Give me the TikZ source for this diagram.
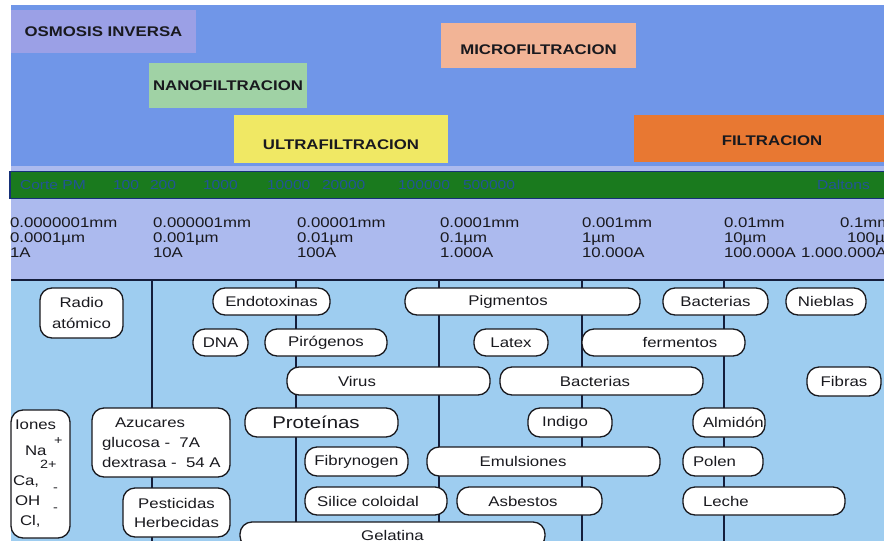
\documentclass[tikz,border=0pt]{standalone}
\usepackage{fontspec}
\setmainfont{Liberation Sans}[FakeStretch=1.2]
\definecolor{skyband}{RGB}{112,150,232}
\definecolor{scaleband}{RGB}{172,186,238}
\definecolor{lowband}{RGB}{158,205,240}
\definecolor{cutgreen}{RGB}{26,122,30}
\definecolor{cutink}{RGB}{34,84,150}
\definecolor{cutedge}{RGB}{22,48,120}
\definecolor{osmo}{RGB}{155,160,230}
\definecolor{nano}{RGB}{160,210,165}
\definecolor{ultra}{RGB}{240,232,100}
\definecolor{micro}{RGB}{242,180,150}
\definecolor{filt}{RGB}{232,120,50}
\definecolor{ink}{RGB}{25,25,30}
\definecolor{gridline}{RGB}{20,30,60}
\newcommand\supfont{\fontsize{12}{12}\selectfont}
\tikzset{
  dims/.style 2 args={minimum width=#1, minimum height=#2},
  proc/.style={anchor=north west, inner sep=0pt, outer sep=0pt,
    font=\bfseries\fontsize{14}{16}\selectfont, text=ink},
  pill/.style={anchor=north west, draw=ink, fill=white, line width=1.3pt,
    rounded corners=12pt, inner sep=0pt, outer sep=0pt,
    font=\fontsize{14}{16}\selectfont, text=ink, align=center},
  scalecol/.style={anchor=north west, inner sep=0pt, outer sep=0pt,
    font=\fontsize{14}{15}\selectfont, text=ink, align=left},
  cutlbl/.style={anchor=west, inner sep=0pt, outer sep=0pt,
    font=\fontsize{13}{13}\selectfont, text=cutink},
  grid/.style={draw=gridline, line width=1.6pt},
}
\begin{document}
\begin{tikzpicture}[x=1pt,y=-1pt]
\useasboundingbox (0,0) rectangle (884,541);
\begin{scope}
\clip (0,0) rectangle (884,541);
% backgrounds
\fill[white] (0,0) rectangle (884,541);
\fill[skyband] (11,5) rectangle (884,166);
\fill[scaleband] (11,166) rectangle (884,280);
\fill[lowband] (11,280) rectangle (884,541);
\draw[cutedge, fill=cutgreen, line width=1.5pt] (10,171.5) rectangle (886,198.5);

% separation processes
\node[proc, fill=osmo, dims={185pt}{43pt}] (osmosis) at (11,10) {OSMOSIS INVERSA};
\node[proc, fill=nano, dims={158pt}{45pt}] (nano) at (149,63) {NANOFILTRACION};
\node[proc, fill=ultra, dims={214pt}{48pt}, text height=20pt, text depth=0pt] (ultra) at (234,115) {ULTRAFILTRACION};
\node[proc, fill=micro, dims={195pt}{45pt}, text height=18pt, text depth=0pt] (micro) at (441,23) {MICROFILTRACION};
\node[proc, fill=filt, dims={250pt}{47pt}, text height=13pt, text depth=0pt] (filt) at (634,115) {\hspace*{26pt}FILTRACION};

% molecular weight cut-off
\node[cutlbl] (g1) at (20,185) {Corte PM};
\node[cutlbl] (g2) at (113,185) {100};
\node[cutlbl] (g3) at (150,185) {200};
\node[cutlbl] (g4) at (203,185) {1000};
\node[cutlbl] (g5) at (267,185) {10000};
\node[cutlbl] (g6) at (322,185) {20000};
\node[cutlbl] (g7) at (398,185) {100000};
\node[cutlbl] (g8) at (463,185) {500000};
\node[cutlbl] (g9) at (817,185) {Daltons};

% size scale
\node[scalecol] (c1) at (10,218) {0.0000001mm\\0.0001µm\\1A};
\node[scalecol] (c2) at (153,218) {0.000001mm\\0.001µm\\10A};
\node[scalecol] (c3) at (297,218) {0.00001mm\\0.01µm\\100A};
\node[scalecol] (c4) at (440,218) {0.0001mm\\0.1µm\\1.000A};
\node[scalecol] (c5) at (582,218) {0.001mm\\1µm\\10.000A};
\node[scalecol] (c6) at (724,218) {0.01mm\\10µm\\100.000A};
\node[scalecol] (c7a) at (840,218) {0.1mm};
\node[scalecol] (c7b) at (847,233) {100µm};
\node[scalecol] (c7c) at (801,248) {1.000.000A};

% decade grid
\draw[grid] (11,280) -- (884,280);
\foreach \gx in {152,296,439,582,724}
  \draw[grid] (\gx,280) -- (\gx,541);

% particles and solutes
\node[pill, dims={83pt}{50pt}, font=\fontsize{14}{21}\selectfont] (radio) at (40,288) {Radio\\atómico};
\node[pill, dims={117pt}{27pt}] (endo) at (213,288) {Endotoxinas};
\node[pill, dims={235pt}{27pt}] (pigm) at (405,288) {\hspace*{-29pt}Pigmentos};
\node[pill, dims={105pt}{27pt}] (bact1) at (663,288) {Bacterias};
\node[pill, dims={80pt}{27pt}] (nieblas) at (786,288) {Nieblas};

\node[pill, dims={55pt}{27pt}] (dna) at (193,329) {DNA};
\node[pill, dims={122pt}{27pt}] (piro) at (265,329) {Pirógenos};
\node[pill, dims={74pt}{27pt}] (latex) at (474,329) {Latex};
\node[pill, dims={163pt}{27pt}] (ferm) at (582,329) {\hspace*{33pt}fermentos};

\node[pill, dims={203pt}{28pt}] (virus) at (287,367) {\hspace*{-63pt}Virus};
\node[pill, dims={203pt}{28pt}] (bact2) at (500,367) {\hspace*{-13pt}Bacterias};
\node[pill, dims={74pt}{29pt}] (fibras) at (807,367) {Fibras};

\node[pill, dims={59pt}{128pt}, align=left, text width=55pt, inner xsep=2pt,
  font=\fontsize{14}{20}\selectfont] (iones) at (11,410)
  {\mbox{\hspace*{2pt}Iones}\\[6pt]
   \mbox{\rlap{\hspace*{41pt}\smash{\raisebox{11pt}{\supfont +}}}\hspace*{12pt}Na}\\[10pt]
   \mbox{\rlap{\hspace*{27pt}\smash{\raisebox{17pt}{\supfont 2+}}}Ca,}\\
   \mbox{\rlap{\hspace*{40pt}\smash{\raisebox{14pt}{\supfont -}}}\hspace*{2pt}OH}\\
   \mbox{\rlap{\hspace*{40pt}\smash{\raisebox{14pt}{\supfont -}}}\hspace*{7pt}Cl,}};
\node[pill, dims={138pt}{69pt}, align=left, text width=118pt, inner xsep=10pt,
  font=\fontsize{14}{20}\selectfont] (azuc) at (92,408)
  {\mbox{\hspace*{13pt}Azucares}\\\mbox{glucosa -~~7A}\\\mbox{dextrasa -~~54 A}};
\node[pill, dims={153pt}{29pt}, font=\fontsize{17}{18}\selectfont] (prot) at (245,408) {\hspace*{-11pt}Proteínas};
\node[pill, dims={84pt}{29pt}] (indigo) at (528,408) {\hspace*{-10pt}Indigo};
\node[pill, dims={72pt}{29pt}, align=left, text width=52pt, inner xsep=10pt] (almidon) at (693,408) {\mbox{Almidón}};

\node[pill, dims={103pt}{29pt}] (fibry) at (305,447) {Fibrynogen};
\node[pill, dims={233pt}{29pt}] (emul) at (427,447) {\hspace*{-41pt}Emulsiones};
\node[pill, dims={80pt}{29pt}, align=left, text width=60pt, inner xsep=10pt] (polen) at (683,447) {\mbox{Polen}};

\node[pill, dims={107pt}{49pt}, font=\fontsize{14}{19}\selectfont] (pest) at (123,488) {Pesticidas\\Herbecidas};
\node[pill, dims={142pt}{28pt}] (silice) at (305,487) {\hspace*{-16pt}Silice coloidal};
\node[pill, dims={145pt}{28pt}] (asb) at (457,487) {\hspace*{-13pt}Asbestos};
\node[pill, dims={162pt}{28pt}, align=left, text width=122pt, inner xsep=20pt] (leche) at (683,487) {\mbox{Leche}};

\node[pill, dims={305pt}{26pt}] (gel) at (240,522) {Gelatina};
\end{scope}
\end{tikzpicture}
\end{document}
